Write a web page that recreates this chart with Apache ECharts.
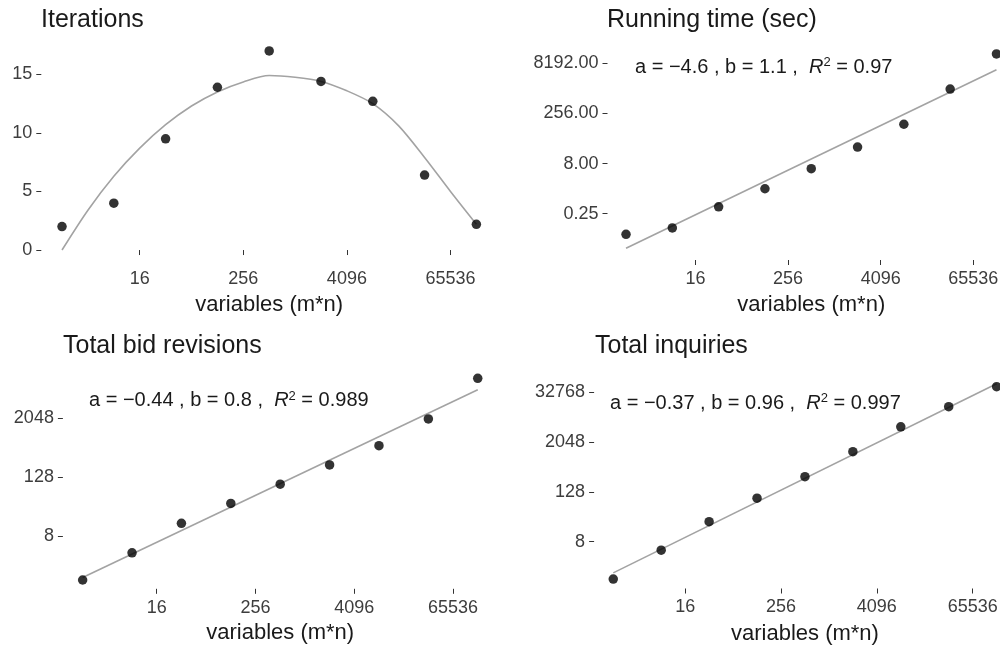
<!DOCTYPE html>
<html>
<head>
<meta charset="utf-8">
<script src="https://cdn.jsdelivr.net/npm/echarts@6/dist/echarts.min.js"></script>
<style>
  html, body { margin: 0; background: #fff; }
  #chart { width: 1000px; height: 646px; }
</style>
</head>
<body>
<div id="chart"></div>
<script>
// problem size (m*n) used on every panel
var vars = [2, 8, 32, 128, 512, 2048, 8192, 32768, 131072];

var iterations   = [2, 4, 9.5, 13.9, 17, 14.4, 12.7, 6.4, 2.2];
var runTime      = [0.06, 0.093, 0.4, 1.4, 5.6, 25, 121, 1380, 15600];
var bidRevisions = [1.0, 3.6, 14.5, 37, 92, 228, 565, 2000, 13600];
var inquiries    = [1.0, 5, 24.4, 90, 298, 1200, 4800, 14700, 44800];

// smooth trend of the Iterations panel
var curveVars = [2, 4, 8, 16, 32, 64, 128, 256, 512, 1024, 2048, 4096, 8192, 16384, 32768, 65536, 131072];
var iterCurve = [0, 3.4, 6.3, 8.7, 10.7, 12.3, 13.5, 14.35, 14.9, 14.75, 14.4, 13.6, 12.5, 10.6, 7.9, 5.0, 2.2];

// ends of the log-log fit lines
var runFit = [[2, 0.0229], [131072, 5200]];
var bidFit = [[2, 1.12], [131072, 7900]];
var inqFit = [[2, 1.41], [131072, 53000]];

var fitA  = ['\u22124.6', '\u22120.44', '\u22120.37'];
var fitB  = ['1.1', '0.8', '0.96'];
var fitR2 = ['0.97', '0.989', '0.997'];

var xTicks    = [16, 256, 4096, 65536];
var iterTicks = [0, 5, 10, 15];
var runTicks  = [0.25, 8, 256, 8192];
var bidTicks  = [8, 128, 2048];
var inqTicks  = [8, 128, 2048, 32768];

var titles = ['Iterations', 'Running time (sec)', 'Total bid revisions', 'Total inquiries'];

var font = '"Liberation Sans", Arial, Helvetica, sans-serif';
var p2 = function (e) { return Math.pow(2, e); };
function pairs(xs, ys) {
  return xs.map(function (x, i) { return [x, ys[i]]; });
}
var intFmt = function (v) { return String(Math.round(v)); };

var panels = [
  { grid: { left: 41.3, top: 41, width: 455.8, height: 219 },
    y: { type: 'value', min: -0.85, max: 17.85 }, ticks: iterTicks, fmt: intFmt,
    title: { left: 41, top: 7.5 }, nameGap: 34 },
  { grid: { left: 607.5, top: 44.2, width: 407.5, height: 215.8 },
    y: { type: 'log', logBase: 2, min: p2(-6.62), max: p2(14.9) }, ticks: runTicks,
    fmt: function (v) { return v.toFixed(2); },
    title: { left: 607, top: 7.5 }, note: { x: 635, y: 67 }, nameGap: 34 },
  { grid: { left: 62.9, top: 368.3, width: 434.6, height: 220.5 },
    y: { type: 'log', logBase: 2, min: p2(-0.6), max: p2(14.41) }, ticks: bidTicks, fmt: intFmt,
    title: { left: 63, top: 334 }, note: { x: 89, y: 400.5 }, nameGap: 33.5 },
  { grid: { left: 594.1, top: 373.9, width: 421.7, height: 214.6 },
    y: { type: 'log', logBase: 2, min: p2(-0.76), max: p2(16.48) }, ticks: inqTicks, fmt: intFmt,
    title: { left: 595, top: 334 }, note: { x: 610, y: 403 }, nameGap: 34 }
];

var tickLine = { color: '#333', width: 1 };
var labelStyle = { fontSize: 18, color: '#3d3d3d', fontFamily: font };

var option = {
  animation: false,
  backgroundColor: '#fff',
  title: panels.map(function (p, i) {
    return {
      text: titles[i], left: p.title.left, top: p.title.top, padding: 0,
      textStyle: { fontSize: 25, fontWeight: 'normal', color: '#1a1a1a', fontFamily: font }
    };
  }),
  grid: panels.map(function (p) {
    return Object.assign({ containLabel: false, outerBoundsMode: 'none' }, p.grid);
  }),
  xAxis: panels.map(function (p, i) {
    return {
      type: 'log', logBase: 2, gridIndex: i, min: p2(0.2), max: p2(17.8),
      axisLine: { show: false }, splitLine: { show: false },
      axisTick: { show: true, customValues: xTicks, length: 5, lineStyle: tickLine },
      axisLabel: Object.assign({ customValues: xTicks, margin: 10, formatter: intFmt }, labelStyle),
      name: 'variables (m*n)', nameLocation: 'middle', nameGap: p.nameGap,
      nameTextStyle: { fontSize: 22, color: '#1a1a1a', fontFamily: font }
    };
  }),
  yAxis: panels.map(function (p, i) {
    return Object.assign({
      gridIndex: i,
      axisLine: { show: false }, splitLine: { show: false },
      axisTick: { show: true, customValues: p.ticks, length: 5, lineStyle: tickLine },
      axisLabel: Object.assign({ customValues: p.ticks, margin: 9, formatter: p.fmt }, labelStyle)
    }, p.y);
  }),
  graphic: panels.slice(1).map(function (p, k) {
    return {
      type: 'text', x: p.note.x, y: p.note.y,
      style: {
        text: 'a = ' + fitA[k] + ' , b = ' + fitB[k] + ' ,  {r|R}{s|2} = ' + fitR2[k],
        fontSize: 20, lineHeight: 22, fontFamily: font, fill: '#1a1a1a', verticalAlign: 'middle',
        rich: {
          r: { fontSize: 20, lineHeight: 22, fontStyle: 'italic', fontFamily: font, fill: '#1a1a1a' },
          s: { fontSize: 13, lineHeight: 13, fontFamily: font, fill: '#1a1a1a', verticalAlign: 'top' }
        }
      }
    };
  }),
  series: []
};

var lineStyle = { color: '#a3a3a3', width: 1.6 };
var dots = [iterations, runTime, bidRevisions, inquiries];
var fits = [null, runFit, bidFit, inqFit];

dots.forEach(function (ys, i) {
  option.series.push({
    type: 'line', xAxisIndex: i, yAxisIndex: i, silent: true, z: 1,
    symbol: 'none', smooth: i === 0 ? 0.3 : false,
    lineStyle: lineStyle,
    data: i === 0 ? pairs(curveVars, iterCurve) : fits[i]
  });
  option.series.push({
    type: 'scatter', xAxisIndex: i, yAxisIndex: i, z: 2,
    symbolSize: 9.5, itemStyle: { color: '#000' },
    data: pairs(vars, ys)
  });
});

var chart = echarts.init(document.getElementById('chart'), null, { renderer: 'canvas' });
chart.setOption(option);
</script>
</body>
</html>
